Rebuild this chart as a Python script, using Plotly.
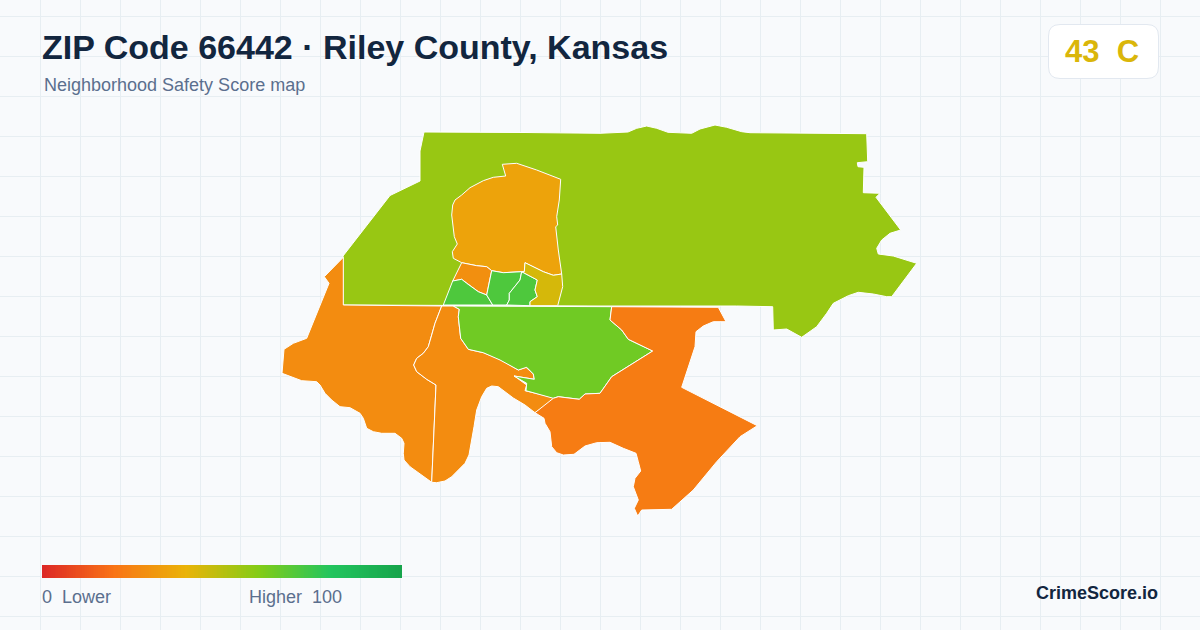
import numpy as np
import plotly.graph_objects as go

# map units are the pixels of the 1200x630 card
north_lime = [(343, 305), (343, 256), (390, 195.5), (420, 181), (420, 151), (424, 132), (525, 132.5), (600, 133.3),
              (628, 132), (636.7, 128.3), (646.7, 126), (656.7, 128.3), (668, 132.3), (691.7, 133.3), (700, 129),
              (715, 125), (726.7, 127.3), (741.7, 131.7), (750, 132.7), (866.7, 133.7), (867.7, 161.7), (857.3, 162.7),
              (858, 166.7), (864, 167.3), (863.3, 192.7), (880, 193.3), (876, 197.3), (900.7, 230), (890, 233.3),
              (881.7, 240), (876.7, 248.3), (878.3, 254), (893.3, 256), (916.7, 263.3), (891.7, 296.7), (886.7, 296.7),
              (873.3, 294), (858.3, 292.3), (848.3, 295.7), (833.3, 303.3), (826.7, 313.3), (816.7, 326.7),
              (801.7, 337.3), (786.7, 329), (773.3, 330), (772.7, 306.7), (736.7, 306), (600, 306)]
north_core = [(502.3, 164.3), (516.7, 163.3), (536.7, 170), (560.7, 179.3), (559.3, 200), (556.7, 216.7), (557.7, 225),
              (555.7, 226.7), (558.3, 250), (561.7, 274), (553.3, 275.3), (543.3, 271.7), (525, 262.7), (524.3, 271.7),
              (521.7, 271.7), (503.3, 272.7), (491.7, 270.7), (486.7, 266.7), (476.7, 265.7), (461.7, 262.7),
              (453.3, 258.3), (452.3, 251.7), (457.3, 244), (454.3, 236.7), (451.7, 215), (452.7, 205), (455, 200),
              (461.7, 195), (470, 187.7), (483.3, 180.7), (493.3, 177.3), (505.7, 176)]
small_orange = [(461.7, 262.7), (476.7, 265.7), (486.7, 266.7), (491.7, 270.7), (489, 283.3), (486.7, 295),
                (478.3, 291.7), (466.7, 283.3), (461.7, 279.3), (452.7, 281)]
green_west = [(452.7, 281), (461.7, 279.3), (466.7, 283.3), (478.3, 291.7), (486.7, 295), (492.7, 305), (443.3, 305)]
green_mid = [(491.7, 270.7), (503.3, 272.7), (521.7, 271.7), (520, 280), (509.3, 293.3), (509.3, 300), (506.7, 305),
             (492.7, 305), (486.7, 295), (489, 283.3)]
green_east = [(521.7, 271.7), (537.3, 280), (535, 290), (537.3, 296.7), (530, 301.7), (530, 305.7), (506.7, 305),
              (509.3, 300), (509.3, 293.3), (520, 280)]
yellow_east = [(525, 262.7), (543.3, 271.7), (553.3, 275.3), (561.7, 274), (562.7, 286.7), (557.7, 305.7), (530, 305.7),
               (530, 301.7), (537.3, 296.7), (535, 290), (537.3, 280), (521.7, 271.7), (524.3, 271.7)]
southwest = [(343.3, 257.3), (324.3, 276.7), (329, 283.3), (306.7, 338.3), (293.3, 343.3), (284, 349.3), (282, 373.3),
             (290, 376), (301.7, 380.7), (316.7, 381.7), (320, 385), (325, 393.3), (331.7, 400), (340, 406.7),
             (350, 407.7), (360, 413.3), (363.3, 418.3), (366.7, 428.3), (373.3, 431.7), (381.7, 433.3), (395, 433.3),
             (401.7, 438.3), (404, 443.3), (403.3, 453.3), (404, 460), (410, 466.7), (416.7, 471.7), (425, 477.7),
             (431.7, 482.3), (436, 385), (426.7, 379.3), (416.7, 371.7), (413.7, 365), (416.7, 358.3), (423.3, 353.3),
             (428.3, 346.7), (431.7, 335), (435, 323.3), (441.7, 306), (343.3, 305)]
south_mid = [(441.7, 306), (453.3, 306), (459.3, 309.3), (458.3, 316.7), (460.7, 338.3), (468.3, 349.3), (483.3, 352.7),
             (500, 359.3), (518.3, 370), (526, 367.3), (533.3, 374), (534.3, 379.3), (514.3, 376), (526.7, 385),
             (525, 390.7), (556.7, 398.3), (535, 412.7), (525, 405), (513.3, 398), (503.3, 390), (498.3, 386.7),
             (491.7, 386), (486.7, 388.3), (481.7, 396.7), (476.7, 410), (474, 426.7), (471.7, 441.7), (469, 455),
             (465, 463.3), (458.3, 470), (451.7, 476.7), (445, 481), (436.7, 482.7), (431.7, 482.3), (436, 385),
             (426.7, 379.3), (416.7, 371.7), (413.7, 365), (416.7, 358.3), (423.3, 353.3), (428.3, 346.7),
             (431.7, 335), (435, 323.3)]
center_green = [(453.3, 306), (611.7, 306.7), (610, 320), (621.7, 330), (628.3, 339.3), (652.7, 351), (611.7, 376.7),
                (600, 393.3), (585, 394), (579.3, 399.3), (558.3, 396.7), (553.3, 398.3), (526, 390.7), (526.7, 383.3),
                (514, 376), (534.3, 379.3), (533.3, 374), (526.7, 367.3), (518.3, 370), (500, 360), (483.3, 352.7),
                (468.3, 349.3), (460.7, 338.3), (458.3, 316.7), (459.3, 309.3)]
southeast = [(611.7, 306.7), (718.3, 307.3), (726, 321.7), (713.3, 321.7), (703.3, 326), (696, 331.7), (695, 346.7),
             (681.7, 387.3), (757.3, 425.7), (740, 436.7), (716.7, 461.7), (693.3, 490), (671.7, 509.3), (641.7, 510),
             (637.7, 516), (634.3, 508.3), (638.3, 500), (633.3, 486.7), (635, 478.3), (640.7, 471), (638.3, 461.7),
             (636, 453.3), (623.3, 448.3), (610, 442.3), (596.7, 442.7), (585, 446), (574, 454.3), (563.3, 455),
             (556.7, 452.7), (551.7, 446.7), (550, 431.7), (545, 423.3), (544, 418.3), (535, 412.7), (553.3, 398.3),
             (558.3, 396.7), (579.3, 399.3), (585, 394), (600, 393.3), (611.7, 376.7), (652.7, 351), (628.3, 339.3),
             (621.7, 330), (610, 320)]

regions = [north_lime, north_core, small_orange, green_west, green_mid, green_east, yellow_east,
           southwest, south_mid, center_green, southeast]
scores = [56, 35, 29, 71, 71, 71, 44, 28, 28, 64, 23]

score_stops = [0, 20, 40, 60, 80, 100]
stop_colors = ["#dc2626", "#f97316", "#eab308", "#84cc16", "#22c55e", "#16a34a"]
stop_rgb = [tuple(int(c[i:i + 2], 16) for i in (1, 3, 5)) for c in stop_colors]


def score_color(score):
    rgb = [np.interp(score, score_stops, [c[i] for c in stop_rgb]) for i in range(3)]
    return "rgb(%d,%d,%d)" % tuple(rgb)


BG = "#f8fafc"
GRID = "#e7eef2"
NAVY = "#12263f"
SLATE = "#5b6f8e"

fig = go.Figure()

for points, score in zip(regions, scores):
    xs = [p[0] for p in points] + [points[0][0]]
    ys = [p[1] for p in points] + [points[0][1]]
    fig.add_trace(go.Scatter(x=xs, y=ys, mode="lines", fill="toself", fillcolor=score_color(score),
                             line=dict(color="white", width=1), hoverinfo="skip", showlegend=False))

# legend ramp
ramp_steps = np.arange(0.5, 100, 0.5)
fig.add_trace(go.Heatmap(
    x=np.linspace(42, 402, len(ramp_steps) + 1), y=[565, 578], z=[ramp_steps],
    zmin=0, zmax=100, showscale=False, hoverinfo="skip",
    colorscale=[[s / 100, c] for s, c in zip(score_stops, stop_colors)],
))

fig.update_layout(
    width=1200, height=630, margin=dict(l=0, r=0, t=0, b=0),
    paper_bgcolor=BG, plot_bgcolor=BG, showlegend=False,
    xaxis=dict(range=[0, 1200], tick0=0.5, dtick=40, showgrid=True, gridcolor=GRID, gridwidth=1,
               zeroline=False, showticklabels=False, ticks=""),
    yaxis=dict(range=[630, 0], tick0=96.5, dtick=40, showgrid=True, gridcolor=GRID, gridwidth=1,
               zeroline=False, showticklabels=False, ticks=""),
    shapes=[
        # header band hides the grid above y=96
        dict(type="rect", xref="x", yref="y", x0=0, x1=1200, y0=0, y1=96, layer="below",
             fillcolor=BG, line_width=0),
        dict(type="path", xref="x", yref="y", fillcolor="white", line=dict(color="#e2e8f0", width=1),
             path="M 1060 24.5 L 1147 24.5 Q 1158.5 24.5 1158.5 36 L 1158.5 67 Q 1158.5 78.5 1147 78.5 "
                  "L 1060 78.5 Q 1048.5 78.5 1048.5 67 L 1048.5 36 Q 1048.5 24.5 1060 24.5 Z"),
    ],
)


def label(x, y, text, size, color, bold=False):
    fig.add_annotation(x=x, y=y, xref="x", yref="y", text=f"<b>{text}</b>" if bold else text, showarrow=False,
                       xanchor="left", yanchor="middle", borderpad=0,
                       font=dict(family="Liberation Sans", size=size, color=color))


label(41, 47, "ZIP Code 66442 · Riley County, Kansas", 34, NAVY, bold=True)
label(43, 85, "Neighborhood Safety Score map", 18, SLATE)
label(1064, 51, "43\u00a0\u00a0C", 31, score_color(43), bold=True)
label(41, 597, "0\u00a0\u00a0Lower", 18, SLATE)
label(248, 597, "Higher\u00a0\u00a0100", 18, SLATE)
label(1035, 593, "CrimeScore.io", 18, NAVY, bold=True)

fig.write_html("out.html", config={"displayModeBar": False}, post_script="document.body.style.margin='0';")
